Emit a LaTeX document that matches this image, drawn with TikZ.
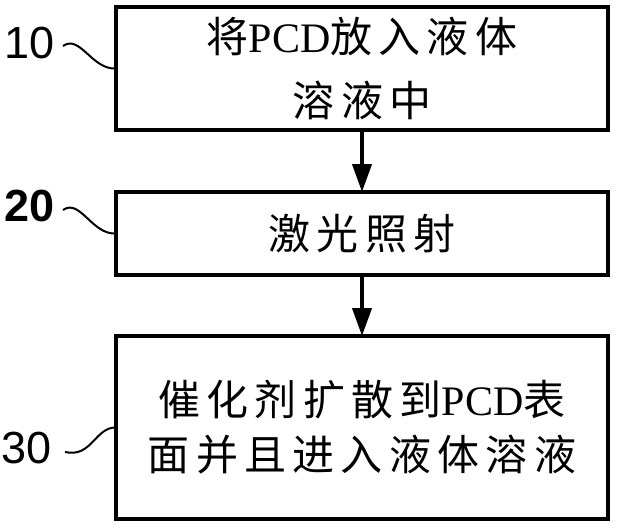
\documentclass[tikz,border=0pt]{standalone}
\usepackage{fontspec}
\setmainfont{Liberation Serif}
\newfontfamily\cjk[LetterSpace=15]{Noto Sans CJK SC}
\newfontfamily\lab{Liberation Sans}
\usetikzlibrary{arrows.meta}
\begin{document}
\begin{tikzpicture}[x=1pt,y=-1pt,
  stepbox/.style={draw=black,line width=4pt,inner sep=0pt,outer sep=0pt,
    minimum width=492pt,align=center,font=\fontsize{42}{50}\selectfont},
  flow/.style={line width=4pt,-{Triangle[width=19pt,length=28pt]}},
  numlab/.style={font=\lab\fontsize{45}{45}\selectfont,inner sep=0pt},
  squig/.style={line width=2pt}]
\useasboundingbox (0,0) rectangle (620,528);
\node[stepbox,minimum height=123pt] (b1) at (362,68.5)
  {{\cjk 将}PCD{\cjk 放入液体}\\[14pt]{\cjk 溶液中}};
\node[stepbox,minimum height=83pt] (b2) at (362,233.5) {{\cjk 激光照射}};
\node[stepbox,minimum height=183pt] (b3) at (362,427.5)
  {{\cjk 催化剂扩散到}PCD{\cjk 表}\\[5pt]{\cjk 面并且进入液体溶液}};
\draw[flow] (b1.south) -- (b2.north);
\draw[flow] (b2.south) -- (b3.north);
\node[numlab] (l1) at (30,43) {10};
\node[numlab,font=\lab\bfseries\fontsize{45}{45}\selectfont] (l2) at (30,206) {20};
\node[numlab] (l3) at (27,448) {30};
\coordinate (s1) at (63,46);
\coordinate (s2) at (63,210);
\coordinate (s3) at (65,452);
\draw[squig] (s1) .. controls (80,34) and (92,70) .. (b1.west);
\draw[squig] (s2) .. controls (80,198) and (92,235) .. (b2.west);
\draw[squig] (s3) .. controls (92,458) and (95,427) .. (b3.west);
\end{tikzpicture}
\end{document}
